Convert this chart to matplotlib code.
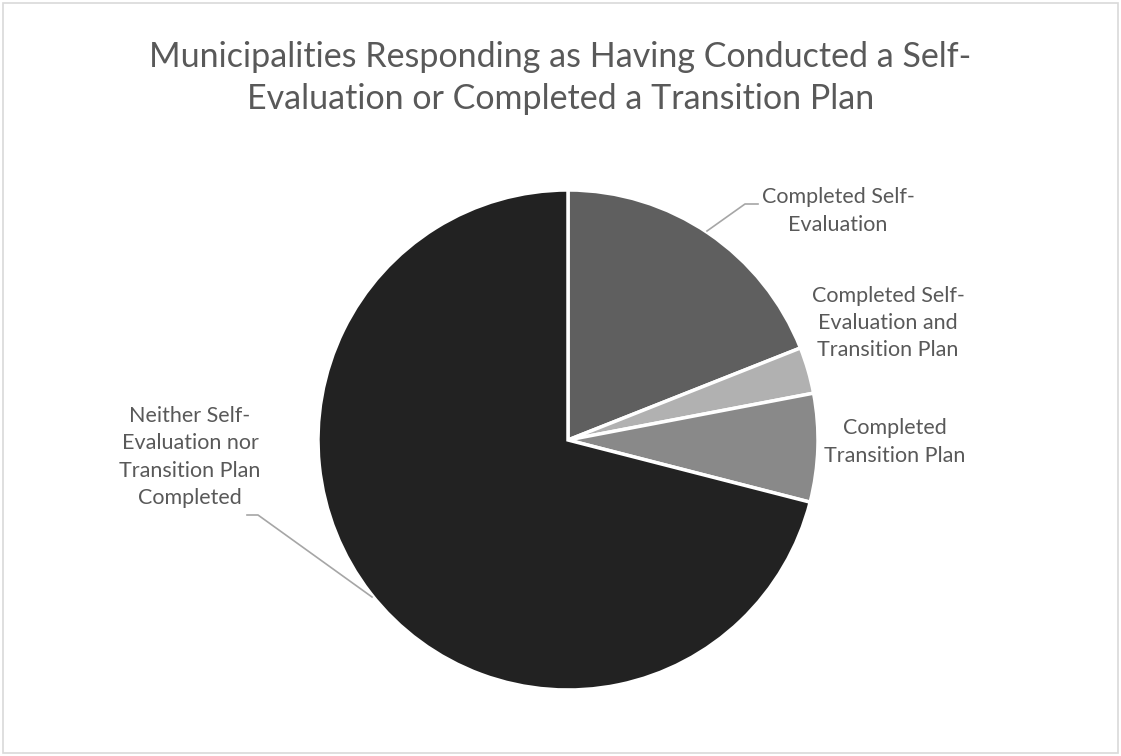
import matplotlib
matplotlib.use("Agg")
import matplotlib.pyplot as plt
from matplotlib.patches import Rectangle

categories = ["Completed Self-\nEvaluation",
              "Completed Self-\nEvaluation and\nTransition Plan",
              "Completed\nTransition Plan",
              "Neither Self-\nEvaluation nor\nTransition Plan\nCompleted"]
values = [19, 3, 7, 71]
colors = ["#5f5f5f", "#b1b1b1", "#898989", "#222222"]
title = "Municipalities Responding as Having Conducted a Self-\nEvaluation or Completed a Transition Plan"

plt.rcParams['font.family'] = ['Lato', 'DejaVu Sans']
txt = "#595959"

fig = plt.figure(figsize=(11.21, 7.56), dpi=100)
fig.patches.append(Rectangle((0.003, 0.004), 0.994, 0.992, transform=fig.transFigure,
                             fill=False, edgecolor="#d9d9d9", linewidth=1.2))

ax = fig.add_axes([318/1121, 66/756, 500/1121, 500/756])
ax.pie(values, colors=colors, startangle=90, counterclock=False,
       wedgeprops=dict(edgecolor="white", linewidth=2.5))
ax.set_xlim(-1, 1)
ax.set_ylim(-1, 1)
ax.set_aspect("equal")
ax.axis("off")

def d(px, py):
    return ((px - 568) / 250, (440 - py) / 250)

label_pos = [(838, 211), (888, 323), (895, 442), (190, 457)]
for lab, (px, py) in zip(categories, label_pos):
    x, y = d(px, py)
    ax.text(x, y, lab, ha="center", va="center", fontsize=15.5, color=txt,
            linespacing=1.45, clip_on=False)

# leader lines
for pts in ([(707, 231), (745, 204), (758, 204)], [(372, 597), (258, 515), (247, 515)]):
    xs, ys = zip(*[d(*p) for p in pts])
    ax.plot(xs, ys, color="#a6a6a6", linewidth=1.2, clip_on=False)

fig.text(0.5, 1 - 78/756, title, ha="center", va="center", fontsize=24.5,
         color=txt, linespacing=1.36)

fig.savefig("out.png", dpi=100)
